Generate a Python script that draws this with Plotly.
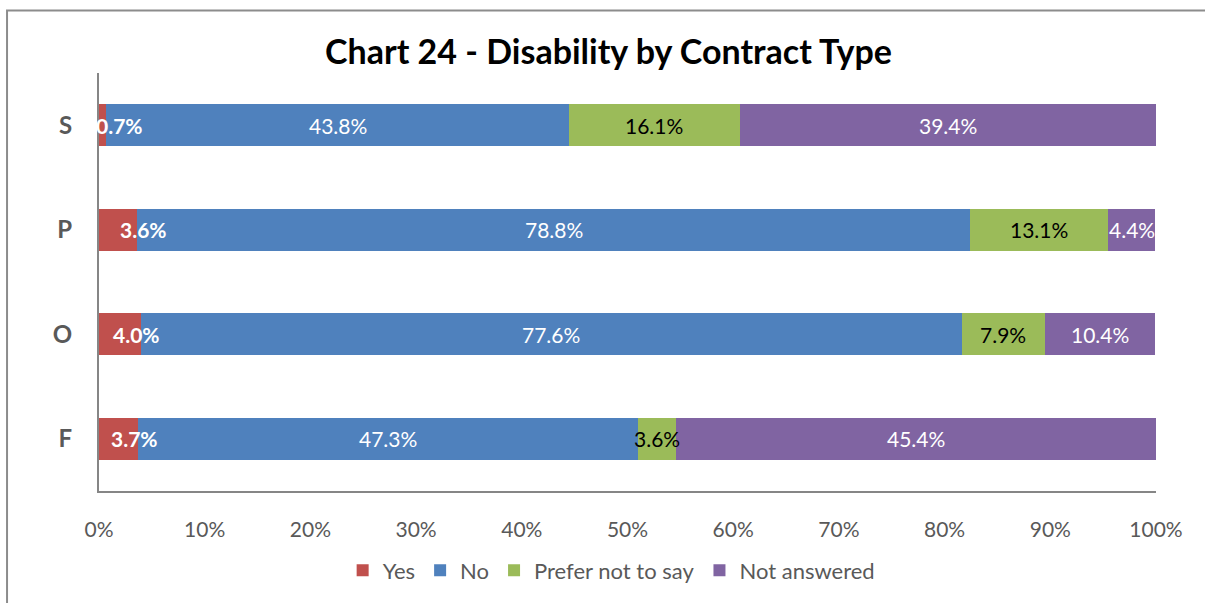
import plotly.graph_objects as go

# Contract types, top to bottom
categories = ["S", "P", "O", "F"]

# Percentage share per response, one list per series
yes_pct = [0.7, 3.6, 4.0, 3.7]
no_pct = [43.8, 78.8, 77.6, 47.3]
prefer_pct = [16.1, 13.1, 7.9, 3.6]
not_answered_pct = [39.4, 4.4, 10.4, 45.4]

series_names = ["Yes", "No", "Prefer not to say", "Not answered"]
series_values = [yes_pct, no_pct, prefer_pct, not_answered_pct]
series_colors = ["#C0504D", "#4F81BD", "#9BBB59", "#8064A2"]
label_colors = ["white", "white", "black", "white"]
label_bold = [True, False, False, False]

tick_vals = [0, 10, 20, 30, 40, 50, 60, 70, 80, 90, 100]
tick_text = [f"{v}%" for v in tick_vals]

# small horizontal nudge for the narrow "Yes" labels, per row
yes_label_shift = [17, 25, 16, 16]

FONT = "Lato"
GREY = "#595959"

fig = go.Figure()
for name, vals, col in zip(series_names, series_values, series_colors):
    fig.add_trace(go.Bar(
        y=categories, x=vals, name=name, orientation="h",
        marker=dict(color=col, line=dict(width=0)),
        hoverinfo="skip",
    ))

# value labels centred on each segment
annotations = []
for i, cat in enumerate(categories):
    start = 0.0
    for s, vals in enumerate(series_values):
        v = vals[i]
        mid = start + v / 2
        start += v
        txt = f"{v:.1f}%"
        if label_bold[s]:
            txt = f"<b>{txt}</b>"
        annotations.append(dict(
            x=mid, y=cat, xref="x", yref="y", text=txt, showarrow=False,
            xshift=yes_label_shift[i] if s == 0 else 0,
            font=dict(family=FONT, size=21, color=label_colors[s]),
        ))

fig.update_layout(
    width=1205, height=603,
    margin=dict(l=99, r=49, t=73, b=110),
    paper_bgcolor="white", plot_bgcolor="white",
    barmode="stack", bargap=0.6,
    title=dict(text="<b>Chart 24 - Disability by Contract Type</b>",
               x=0.505, xanchor="center", y=0.913, yanchor="middle",
               font=dict(family=FONT, size=34, color="black")),
    font=dict(family=FONT, color=GREY),
    showlegend=True,
    legend=dict(orientation="h", x=0.485, xanchor="center", y=-0.19, yanchor="middle",
                font=dict(family=FONT, size=22, color=GREY),
                itemwidth=30, traceorder="normal", bgcolor="rgba(0,0,0,0)"),
    annotations=annotations,
    xaxis=dict(range=[0, 100], tickvals=tick_vals, ticktext=tick_text,
               showgrid=False, zeroline=False, showline=True,
               linecolor="#868686", linewidth=2, ticks="",
               ticklabelstandoff=19,
               tickfont=dict(family=FONT, size=21, color=GREY)),
    yaxis=dict(autorange="reversed", showgrid=False, zeroline=False,
               showline=True, linecolor="#868686", linewidth=2, ticks="",
               ticklabelstandoff=20,
               tickfont=dict(family=FONT, size=24, color=GREY)),
    shapes=[dict(type="path", xref="paper", yref="paper",
                 path="M -0.087,-0.35 L -0.087,1.1496 L 1.1,1.1496",
                 line=dict(color="#8C8C8C", width=2))],
)
fig.update_yaxes(tickprefix="<b>", ticksuffix="</b>")

fig.write_html("out.html")
